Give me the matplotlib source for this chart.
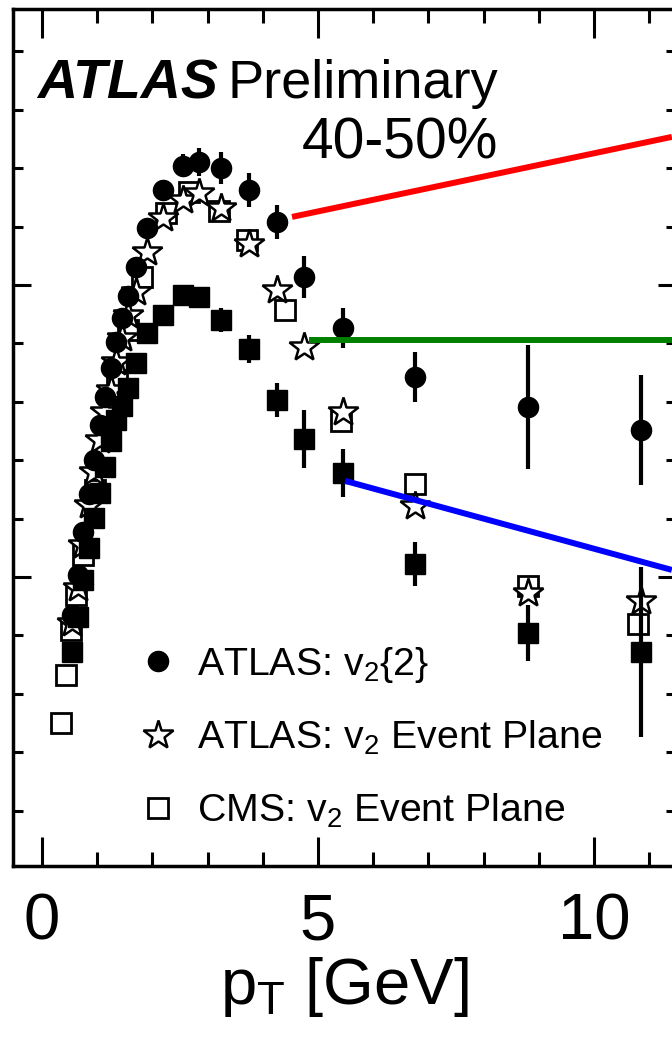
import numpy as np
import matplotlib
matplotlib.use("Agg")
import matplotlib.pyplot as plt
from matplotlib.lines import Line2D
from matplotlib.ticker import MultipleLocator

plt.rcParams["font.family"] = ["Liberation Sans", "DejaVu Sans"]
plt.rcParams["mathtext.fontset"] = "custom"
plt.rcParams["mathtext.rm"] = "Liberation Sans"
plt.rcParams["mathtext.it"] = "Liberation Sans:italic"
plt.rcParams["mathtext.bf"] = "Liberation Sans:bold"

# --- data (pT in GeV, v2) ---
pt_atlas = [0.55, 0.65, 0.75, 0.85, 0.95, 1.05, 1.15, 1.25, 1.35, 1.45, 1.55, 1.7,
            1.9, 2.2, 2.55, 2.85, 3.25, 3.75, 4.25, 4.75, 5.45, 6.75, 8.8, 10.85]
v2_2 = [0.0870, 0.1007, 0.1154, 0.1284, 0.1401, 0.1521, 0.1616, 0.1716, 0.1805, 0.1887,
        0.1962, 0.2062, 0.2195, 0.2325, 0.2408, 0.2421, 0.2401, 0.2325, 0.2216, 0.2027,
        0.1853, 0.1685, 0.1582, 0.1503]
v2_2_err = [0.002, 0.002, 0.002, 0.002, 0.002, 0.002, 0.002, 0.002, 0.002, 0.002,
            0.002, 0.002, 0.003, 0.0034, 0.004, 0.0048, 0.0055, 0.0058, 0.0058, 0.0072,
            0.0068, 0.0086, 0.0212, 0.0188]
v2_sq = [0.0743, 0.0863, 0.0990, 0.1099, 0.1202, 0.1288, 0.1377, 0.1466, 0.1538, 0.1586,
         0.1647, 0.1733, 0.1836, 0.1897, 0.1966, 0.1959, 0.1880, 0.1781, 0.1606, 0.1473,
         0.1356, 0.1045, 0.0808, 0.0743]
v2_sq_err = [0.002, 0.002, 0.002, 0.002, 0.002, 0.002, 0.002, 0.002, 0.002, 0.002,
             0.002, 0.002, 0.002, 0.003, 0.003, 0.003, 0.004, 0.0048, 0.0058, 0.0099,
             0.0082, 0.0075, 0.0096, 0.029]
v2_ep = [0.0842, 0.0962, 0.1110, 0.1247, 0.1360, 0.1469, 0.1565, 0.1640, 0.1736, 0.1818,
         0.1897, 0.1976, 0.2113, 0.2229, 0.2291, 0.2315, 0.2264, 0.2140, 0.1983, 0.1788,
         0.1565, 0.1243, 0.0945, 0.0918]

pt_cms = [0.34, 0.43, 0.53, 0.62, 0.74, 0.96, 1.16, 1.36, 1.56, 1.81, 2.25, 2.66,
          3.21, 3.71, 4.40, 5.42, 6.76, 8.80, 10.80]
v2_cms = [0.0500, 0.0664, 0.0818, 0.0938, 0.1075, 0.1298, 0.1503, 0.1675, 0.1846, 0.2027,
          0.2247, 0.2318, 0.2253, 0.2154, 0.1914, 0.1534, 0.1318, 0.0969, 0.0839]

# connector lines leaving the panel
red_x, red_y = [4.53, 11.41], [0.2233, 0.2507]
green_x, green_y = [4.84, 11.41], [0.1812, 0.1812]
blue_x, blue_y = [5.49, 11.41], [0.1329, 0.1024]

labels = ["ATLAS: v$_2${2}", "ATLAS: v$_2$ Event Plane", "CMS: v$_2$ Event Plane"]

fig = plt.figure(figsize=(6.72, 10.39), dpi=100)
ax = fig.add_axes([13 / 672, 1 - 866 / 1039, 663 / 672, 857 / 1039])

ax.plot(pt_cms, v2_cms, ls="none", marker="s", ms=14, mfc="white",
        mec="black", mew=2.0, zorder=3)
ax.plot(pt_atlas, v2_ep, ls="none", marker="*", ms=22, mfc="white",
        mec="black", mew=1.8, zorder=4)
ax.errorbar(pt_atlas, v2_2, yerr=v2_2_err, fmt="o", ms=14.5, color="black",
            elinewidth=3, capsize=0, zorder=5)
ax.errorbar(pt_atlas, v2_sq, yerr=v2_sq_err, fmt="s", ms=14.5, color="black",
            elinewidth=3, capsize=0, zorder=6)

ax.plot(red_x, red_y, color="#ff0000", lw=4.3, solid_capstyle="butt", zorder=7, clip_on=False)
ax.plot(green_x, green_y, color="#008000", lw=4.3, solid_capstyle="butt", zorder=7, clip_on=False)
ax.plot(blue_x, blue_y, color="#0000ff", lw=4.3, solid_capstyle="butt", zorder=7, clip_on=False)

ax.set_xlim(-0.525, 11.486)
ax.set_ylim(0.001, 0.2945)
ax.xaxis.set_major_locator(MultipleLocator(5))
ax.xaxis.set_minor_locator(MultipleLocator(1))
ax.yaxis.set_major_locator(MultipleLocator(0.1))
ax.yaxis.set_minor_locator(MultipleLocator(0.02))
ax.tick_params(which="both", direction="in", top=True, right=True, width=2.2,
               labelleft=False, labelsize=47, pad=19)
ax.tick_params(axis="x", which="major", length=21)
ax.tick_params(axis="x", which="minor", length=10)
ax.tick_params(axis="y", which="major", length=13)
ax.tick_params(axis="y", which="minor", length=7)
for s in ax.spines.values():
    s.set_linewidth(2.5)

ax.set_xlabel("p$_{\\rm T}$ [GeV]", fontsize=47, labelpad=2)

ax.text(0.036, 0.896, "ATLAS", transform=ax.transAxes, fontsize=40,
        fontweight="bold", fontstyle="italic", va="baseline")
ax.text(0.323, 0.896, "Preliminary", transform=ax.transAxes, fontsize=39, va="baseline")
ax.text(0.436, 0.826, "40-50%", transform=ax.transAxes, fontsize=41, va="baseline")

handles = [
    Line2D([], [], ls="none", marker="o", ms=14.5, color="black"),
    Line2D([], [], ls="none", marker="*", ms=22, mfc="white", mec="black", mew=1.8),
    Line2D([], [], ls="none", marker="s", ms=14, mfc="white", mec="black", mew=2.0),
]
ax.legend(handles, labels, loc="upper left", bbox_to_anchor=(0.1885, 0.258),
          frameon=False, fontsize=28.3, handlelength=1.0, handletextpad=0.5,
          labelspacing=0.87, borderpad=0, borderaxespad=0)

fig.savefig("out.png", dpi=100)
